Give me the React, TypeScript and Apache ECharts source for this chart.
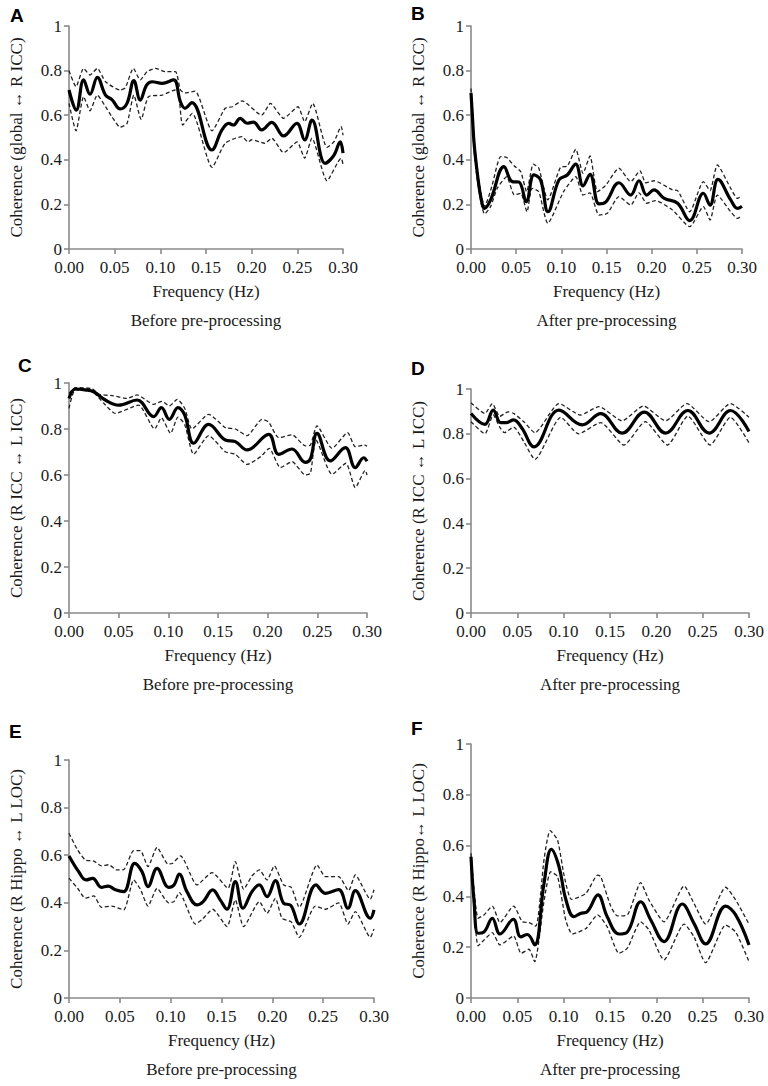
import React, { useEffect, useRef } from "react";
import * as echarts from "echarts";

// ---- Data (frequency Hz, coherence) ----
const aMean = [[0,0.713],[0.008,0.623],[0.016,0.758],[0.023,0.694],[0.031,0.77],[0.04,0.69],[0.047,0.67],[0.056,0.628],[0.0635,0.653],[0.071,0.755],[0.078,0.668],[0.085,0.735],[0.091,0.75],[0.102,0.743],[0.1145,0.758],[0.122,0.66],[0.127,0.631],[0.1345,0.656],[0.1565,0.444],[0.1675,0.534],[0.175,0.563],[0.18,0.556],[0.1875,0.586],[0.195,0.564],[0.202,0.569],[0.211,0.534],[0.222,0.568],[0.235,0.507],[0.2495,0.563],[0.258,0.489],[0.266,0.578],[0.2805,0.384],[0.29,0.42],[0.297,0.481],[0.3,0.43]];
const aUpper = [[0,0.8],[0.0077,0.728],[0.016,0.81],[0.023,0.78],[0.031,0.81],[0.04,0.75],[0.056,0.713],[0.0617,0.723],[0.0705,0.81],[0.078,0.758],[0.0854,0.795],[0.0946,0.81],[0.1055,0.795],[0.1165,0.795],[0.122,0.713],[0.127,0.7],[0.138,0.708],[0.1566,0.53],[0.171,0.631],[0.179,0.638],[0.1894,0.664],[0.211,0.6],[0.2205,0.653],[0.235,0.586],[0.2507,0.638],[0.258,0.571],[0.2668,0.653],[0.2825,0.456],[0.29,0.48],[0.298,0.549],[0.3,0.51]];
const aLower = [[0,0.653],[0.0077,0.53],[0.016,0.683],[0.023,0.62],[0.031,0.69],[0.04,0.638],[0.047,0.593],[0.056,0.546],[0.0635,0.563],[0.071,0.69],[0.079,0.581],[0.087,0.683],[0.102,0.69],[0.1165,0.713],[0.12,0.7],[0.1245,0.556],[0.135,0.608],[0.1566,0.366],[0.171,0.474],[0.1894,0.504],[0.196,0.48],[0.2,0.49],[0.2145,0.474],[0.222,0.497],[0.235,0.432],[0.2497,0.48],[0.258,0.407],[0.266,0.497],[0.2825,0.306],[0.298,0.407],[0.3,0.38]];

const bMean = [[0,0.7],[0.0015,0.6],[0.0035,0.47],[0.007,0.34],[0.011,0.23],[0.0151,0.182],[0.0217,0.22],[0.0365,0.369],[0.0457,0.302],[0.053,0.3],[0.0612,0.212],[0.0697,0.332],[0.077,0.31],[0.0852,0.167],[0.0974,0.31],[0.1066,0.332],[0.1159,0.381],[0.124,0.283],[0.1317,0.335],[0.1417,0.202],[0.149,0.21],[0.1638,0.297],[0.1768,0.242],[0.186,0.306],[0.1945,0.242],[0.2026,0.265],[0.214,0.227],[0.2287,0.205],[0.2421,0.127],[0.2572,0.25],[0.2646,0.197],[0.2734,0.312],[0.2875,0.22],[0.295,0.182],[0.3,0.192]];
const bUpper = [[0,0.72],[0.0015,0.62],[0.0035,0.49],[0.007,0.36],[0.011,0.25],[0.015,0.19],[0.023,0.28],[0.0329,0.414],[0.0395,0.41],[0.048,0.372],[0.055,0.347],[0.0616,0.257],[0.069,0.381],[0.075,0.363],[0.085,0.22],[0.099,0.366],[0.1066,0.372],[0.116,0.447],[0.124,0.339],[0.1317,0.417],[0.14,0.257],[0.149,0.285],[0.1638,0.362],[0.1768,0.302],[0.187,0.351],[0.1935,0.297],[0.2026,0.306],[0.223,0.265],[0.2287,0.262],[0.2421,0.167],[0.2572,0.302],[0.2646,0.262],[0.2727,0.377],[0.2875,0.272],[0.295,0.227],[0.3,0.24]];
const bLower = [[0,0.67],[0.0015,0.57],[0.0035,0.44],[0.007,0.31],[0.011,0.21],[0.015,0.157],[0.0217,0.19],[0.029,0.272],[0.0395,0.324],[0.048,0.242],[0.055,0.25],[0.062,0.167],[0.0675,0.272],[0.075,0.257],[0.085,0.115],[0.1025,0.257],[0.116,0.324],[0.124,0.242],[0.1317,0.252],[0.1417,0.152],[0.151,0.16],[0.1638,0.235],[0.1768,0.197],[0.186,0.252],[0.1945,0.205],[0.204,0.217],[0.223,0.175],[0.2421,0.1],[0.2572,0.19],[0.2646,0.13],[0.2727,0.242],[0.2875,0.167],[0.295,0.137],[0.3,0.15]];

const cMean = [[0,0.933],[0.0064,0.974],[0.0164,0.97],[0.0248,0.962],[0.0366,0.926],[0.05,0.904],[0.0685,0.926],[0.0852,0.854],[0.093,0.893],[0.101,0.842],[0.1097,0.893],[0.1165,0.86],[0.1255,0.738],[0.1406,0.82],[0.1574,0.752],[0.1675,0.745],[0.1792,0.709],[0.201,0.777],[0.2111,0.69],[0.2245,0.713],[0.2379,0.655],[0.243,0.67],[0.2497,0.781],[0.263,0.661],[0.2782,0.719],[0.2882,0.632],[0.2967,0.675],[0.3,0.66]];
const cUpper = [[0,0.955],[0.0064,0.98],[0.0235,0.975],[0.03,0.951],[0.0436,0.945],[0.0584,0.933],[0.0685,0.948],[0.0852,0.907],[0.0936,0.92],[0.101,0.9],[0.109,0.929],[0.1165,0.89],[0.1238,0.8],[0.1406,0.864],[0.1574,0.806],[0.1675,0.8],[0.1792,0.771],[0.1943,0.842],[0.201,0.83],[0.2111,0.762],[0.2245,0.775],[0.2379,0.727],[0.243,0.73],[0.2497,0.814],[0.2648,0.716],[0.2805,0.784],[0.2882,0.723],[0.2967,0.73],[0.3,0.726]];
const cLower = [[0,0.89],[0.0064,0.97],[0.0235,0.962],[0.035,0.912],[0.0466,0.868],[0.07,0.904],[0.0862,0.8],[0.093,0.849],[0.1023,0.781],[0.1097,0.852],[0.1165,0.82],[0.1255,0.69],[0.1406,0.771],[0.1574,0.701],[0.1675,0.69],[0.1792,0.646],[0.193,0.68],[0.2016,0.716],[0.2128,0.632],[0.2245,0.658],[0.2379,0.6],[0.243,0.607],[0.2487,0.752],[0.2648,0.603],[0.2788,0.651],[0.2882,0.545],[0.2983,0.62],[0.3,0.6]];

const dMean = [[0,0.891],[0.015,0.842],[0.024,0.906],[0.032,0.85],[0.038,0.85],[0.046,0.862],[0.055,0.825],[0.068,0.742],[0.095,0.906],[0.12,0.84],[0.14,0.89],[0.163,0.803],[0.187,0.897],[0.21,0.803],[0.234,0.904],[0.257,0.803],[0.28,0.904],[0.3,0.81]];
const dUpper = [[0,0.939],[0.015,0.891],[0.023,0.935],[0.031,0.878],[0.04,0.898],[0.046,0.891],[0.057,0.854],[0.069,0.805],[0.095,0.935],[0.118,0.884],[0.138,0.921],[0.163,0.858],[0.186,0.924],[0.21,0.858],[0.233,0.935],[0.257,0.854],[0.28,0.935],[0.3,0.874]];
const dLower = [[0,0.854],[0.015,0.8],[0.024,0.884],[0.031,0.83],[0.036,0.805],[0.046,0.83],[0.057,0.765],[0.069,0.686],[0.097,0.874],[0.116,0.8],[0.14,0.85],[0.165,0.75],[0.188,0.854],[0.212,0.75],[0.234,0.879],[0.258,0.75],[0.28,0.874],[0.3,0.76]];

const eMean = [[0,0.597],[0.0095,0.531],[0.0167,0.496],[0.0233,0.503],[0.0318,0.465],[0.0384,0.47],[0.0456,0.455],[0.0538,0.447],[0.0646,0.566],[0.0718,0.531],[0.0777,0.468],[0.0866,0.545],[0.098,0.465],[0.1033,0.475],[0.1085,0.521],[0.116,0.447],[0.1259,0.391],[0.132,0.405],[0.1413,0.454],[0.149,0.41],[0.1554,0.373],[0.1636,0.489],[0.1711,0.377],[0.18,0.447],[0.1872,0.475],[0.1948,0.426],[0.203,0.493],[0.2111,0.398],[0.218,0.39],[0.2265,0.311],[0.243,0.475],[0.2523,0.44],[0.2652,0.455],[0.2744,0.377],[0.2816,0.451],[0.2964,0.335],[0.3,0.37]];
const eUpper = [[0,0.692],[0.0085,0.622],[0.016,0.58],[0.0245,0.575],[0.032,0.555],[0.039,0.56],[0.047,0.538],[0.054,0.54],[0.0636,0.619],[0.0702,0.619],[0.0777,0.552],[0.0866,0.633],[0.0974,0.563],[0.1016,0.565],[0.1098,0.597],[0.1259,0.475],[0.1407,0.527],[0.1564,0.461],[0.1636,0.573],[0.1718,0.457],[0.18,0.513],[0.1872,0.538],[0.1948,0.496],[0.202,0.555],[0.2111,0.475],[0.2186,0.465],[0.2265,0.381],[0.244,0.559],[0.2523,0.51],[0.2652,0.51],[0.275,0.451],[0.2816,0.517],[0.2964,0.415],[0.3,0.455]];
const eLower = [[0,0.503],[0.0085,0.461],[0.016,0.42],[0.0245,0.429],[0.0318,0.381],[0.042,0.386],[0.0538,0.37],[0.0636,0.496],[0.0702,0.457],[0.0777,0.386],[0.0866,0.461],[0.098,0.4],[0.1033,0.405],[0.1085,0.443],[0.1243,0.311],[0.131,0.33],[0.1413,0.373],[0.1554,0.3],[0.1636,0.412],[0.1718,0.3],[0.1872,0.405],[0.1948,0.356],[0.203,0.419],[0.2095,0.335],[0.2186,0.32],[0.2265,0.255],[0.2423,0.386],[0.2523,0.373],[0.2652,0.4],[0.2744,0.311],[0.2816,0.363],[0.2964,0.255],[0.3,0.29]];

const fMean = [[0,0.556],[0.0032,0.386],[0.0076,0.255],[0.014,0.26],[0.023,0.314],[0.0313,0.252],[0.0457,0.31],[0.0536,0.241],[0.0608,0.25],[0.0687,0.209],[0.0788,0.452],[0.0867,0.585],[0.095,0.517],[0.1022,0.39],[0.1111,0.32],[0.118,0.333],[0.1255,0.34],[0.137,0.406],[0.147,0.32],[0.1597,0.252],[0.1687,0.26],[0.1831,0.379],[0.194,0.307],[0.2083,0.222],[0.228,0.37],[0.2406,0.294],[0.2532,0.213],[0.2748,0.362],[0.2856,0.327],[0.3,0.209]];
const fUpper = [[0,0.57],[0.0076,0.314],[0.014,0.327],[0.023,0.362],[0.0313,0.297],[0.046,0.362],[0.0554,0.3],[0.0625,0.297],[0.07,0.283],[0.079,0.55],[0.0854,0.659],[0.0934,0.622],[0.1006,0.48],[0.1086,0.388],[0.1241,0.412],[0.1367,0.484],[0.14,0.478],[0.151,0.36],[0.158,0.323],[0.1687,0.327],[0.1831,0.454],[0.192,0.386],[0.2083,0.3],[0.23,0.441],[0.2406,0.373],[0.2532,0.291],[0.2748,0.436],[0.2856,0.386],[0.3,0.291]];
const fLower = [[0,0.54],[0.0076,0.205],[0.014,0.228],[0.023,0.257],[0.0313,0.209],[0.046,0.244],[0.054,0.176],[0.0625,0.192],[0.0687,0.143],[0.079,0.386],[0.086,0.497],[0.0934,0.478],[0.1022,0.307],[0.1094,0.252],[0.1241,0.274],[0.1367,0.327],[0.147,0.28],[0.1597,0.176],[0.1687,0.196],[0.1831,0.3],[0.192,0.268],[0.2083,0.15],[0.23,0.291],[0.2406,0.241],[0.2532,0.139],[0.2748,0.287],[0.2856,0.26],[0.3,0.143]];

const panelLetters = ["A", "B", "C", "D", "E", "F"];
const yTitles = [
  "Coherence (global \u2194 R ICC)",
  "Coherence (global \u2194 R ICC)",
  "Coherence (R ICC \u2194 L ICC)",
  "Coherence (R ICC \u2194 L ICC)",
  "Coherence (R Hippo \u2194 L LOC)",
  "Coherence (R Hippo\u2194 L LOC)",
];
const subtitles = [
  "Before pre-processing",
  "After pre-processing",
  "Before pre-processing",
  "After pre-processing",
  "Before pre-processing",
  "After pre-processing",
];
const xTitle = "Frequency (Hz)";

const seriesData = [
  [aMean, aUpper, aLower],
  [bMean, bUpper, bLower],
  [cMean, cUpper, cLower],
  [dMean, dUpper, dLower],
  [eMean, eUpper, eLower],
  [fMean, fUpper, fLower],
];

// layout (pixels)
const grids = [
  { left: 69, top: 26, width: 274, height: 223 },
  { left: 471, top: 26, width: 271, height: 223 },
  { left: 69, top: 383, width: 298, height: 230 },
  { left: 471, top: 389, width: 278, height: 224 },
  { left: 69, top: 760, width: 305, height: 238 },
  { left: 471, top: 744, width: 278, height: 254 },
];
const letterPos = [
  [10, 6],
  [411, 4],
  [18, 356],
  [411, 359],
  [9, 722],
  [411, 719],
];

const SERIF = "Liberation Serif";
const SANS = "Liberation Sans";
const TXT = "#1a1a1a";
const AX = "#8a8a8a";

const tickRich = {
  t: { fontFamily: SERIF, fontSize: 17, color: TXT },
};

export default function App() {
  const ref = useRef<HTMLDivElement>(null);
  useEffect(() => {
    if (!ref.current) return;
    const chart = echarts.init(ref.current, undefined, { renderer: "svg" });
    const grid = grids.map((g) => ({ ...g, containLabel: false }));
    const xAxis = grids.map((_, i) => ({
      type: "value",
      gridIndex: i,
      min: 0,
      max: 0.3,
      interval: 0.05,
      name: xTitle,
      nameLocation: "middle",
      nameGap: 34,
      nameTextStyle: { fontFamily: SERIF, fontSize: 17, color: TXT },
      axisLine: { show: true, lineStyle: { color: AX, width: 1.6 } },
      axisTick: { show: true, length: 5, lineStyle: { color: AX, width: 1.6 } },
      axisLabel: {
        margin: 10,
        fontFamily: SERIF,
        fontSize: 17,
        color: TXT,
        rich: tickRich,
        formatter: (v: number) => "{t|" + v.toFixed(2) + "}",
      },
      splitLine: { show: false },
    }));
    const yAxis = grids.map((_, i) => ({
      type: "value",
      gridIndex: i,
      min: 0,
      max: 1,
      interval: 0.2,
      name: yTitles[i],
      nameLocation: "middle",
      nameGap: 44,
      nameTextStyle: { fontFamily: SERIF, fontSize: 17, color: TXT },
      axisLine: { show: true, lineStyle: { color: AX, width: 1.6 } },
      axisTick: { show: true, length: 5, lineStyle: { color: AX, width: 1.6 } },
      axisLabel: {
        margin: 7,
        fontFamily: SERIF,
        fontSize: 17,
        color: TXT,
        rich: tickRich,
        formatter: (v: number) => "{t|" + String(+v.toFixed(1)) + "}",
      },
      splitLine: { show: false },
    }));
    const series: any[] = [];
    seriesData.forEach((trio, i) => {
      const [mean, upper, lower] = trio;
      [upper, lower].forEach((d) => {
        series.push({
          type: "line",
          xAxisIndex: i,
          yAxisIndex: i,
          data: d,
          showSymbol: false,
          symbol: "none",
          smooth: 0.2,
          lineStyle: { color: "#222", width: 1.3, type: [4, 2.5] },
          z: 2,
        });
      });
      series.push({
        type: "line",
        xAxisIndex: i,
        yAxisIndex: i,
        data: mean,
        showSymbol: false,
        symbol: "none",
        smooth: 0.4,
        lineStyle: { color: "#000", width: 3.2 },
        z: 3,
      });
    });
    const graphic: any[] = [];
    panelLetters.forEach((l, i) => {
      graphic.push({
        type: "text",
        left: letterPos[i][0],
        top: letterPos[i][1],
        style: { text: l, fontFamily: SANS, fontWeight: "bold", fontSize: 19, fill: "#000" },
      });
      const g = grids[i];
      graphic.push({
        type: "text",
        x: g.left + g.width / 2,
        y: g.top + g.height + 71,
        style: {
          text: subtitles[i],
          fontFamily: SERIF,
          fontSize: 17,
          fill: TXT,
          textAlign: "center",
          textVerticalAlign: "middle",
        },
      });
    });
    chart.setOption({
      animation: false,
      backgroundColor: "#ffffff",
      textStyle: { fontFamily: SERIF },
      grid,
      xAxis,
      yAxis,
      series,
      graphic,
    });
    return () => chart.dispose();
  }, []);
  return (
    <div
      ref={ref}
      style={{ position: "absolute", left: 0, top: 0, width: 768, height: 1086, background: "#fff" }}
    />
  );
}
